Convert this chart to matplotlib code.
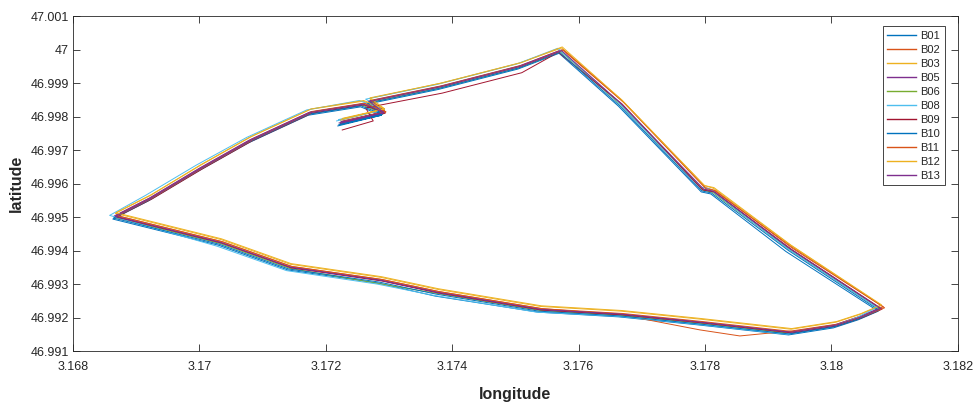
import matplotlib
matplotlib.use('Agg')
import matplotlib.pyplot as plt
from matplotlib.ticker import FuncFormatter

# traces GPS des bateaux (longitude, latitude)
b01_lon = [3.17219, 3.17288, 3.17265, 3.17378, 3.17504, 3.17569, 3.17663, 3.17794, 3.17809, 3.17928, 3.18074, 3.18042, 3.18003, 3.17932, 3.17789, 3.17663, 3.17536, 3.17373, 3.17283, 3.17140, 3.17030, 3.16863, 3.16919, 3.16998, 3.17077, 3.17172, 3.17255, 3.17288, 3.17222]
b01_lat = [46.99772, 46.99804, 46.99837, 46.99881, 46.99942, 46.99989, 46.99831, 46.99575, 46.99569, 46.99397, 46.99219, 46.99193, 46.99169, 46.99148, 46.99178, 46.99202, 46.99216, 46.99264, 46.99303, 46.99342, 46.99416, 46.99494, 46.99548, 46.99637, 46.99721, 46.99804, 46.99829, 46.99804, 46.99776]

b02_lon = [3.17224, 3.17293, 3.17270, 3.17383, 3.17509, 3.17574, 3.17670, 3.17801, 3.17814, 3.17938, 3.18082, 3.18048, 3.18008, 3.17937, 3.17855, 3.17792, 3.17668, 3.17541, 3.17378, 3.17288, 3.17145, 3.17035, 3.16868, 3.16924, 3.17003, 3.17082, 3.17177, 3.17260, 3.17293, 3.17227]
b02_lat = [46.99783, 46.99815, 46.99848, 46.99892, 46.99953, 47.00000, 46.99845, 46.99588, 46.99580, 46.99410, 46.99232, 46.99206, 46.99180, 46.99160, 46.99145, 46.99163, 46.99208, 46.99227, 46.99278, 46.99314, 46.99353, 46.99427, 46.99505, 46.99559, 46.99648, 46.99732, 46.99815, 46.99840, 46.99815, 46.99787]

b03_lon = [3.17223, 3.17292, 3.17269, 3.17382, 3.17508, 3.17573, 3.17668, 3.17799, 3.17813, 3.17936, 3.18079, 3.18046, 3.18007, 3.17936, 3.17793, 3.17667, 3.17540, 3.17377, 3.17287, 3.17144, 3.17034, 3.16867, 3.16923, 3.17002, 3.17081, 3.17176, 3.17259, 3.17292, 3.17226]
b03_lat = [46.99789, 46.99821, 46.99854, 46.99900, 46.99961, 47.00005, 46.99850, 46.99594, 46.99586, 46.99415, 46.99236, 46.99210, 46.99186, 46.99165, 46.99195, 46.99219, 46.99233, 46.99284, 46.99320, 46.99359, 46.99433, 46.99511, 46.99565, 46.99656, 46.99740, 46.99822, 46.99846, 46.99821, 46.99793]

b05_lon = [3.17221, 3.17290, 3.17267, 3.17380, 3.17506, 3.17571, 3.17665, 3.17796, 3.17811, 3.17933, 3.18076, 3.18044, 3.18005, 3.17934, 3.17791, 3.17665, 3.17538, 3.17375, 3.17285, 3.17142, 3.17032, 3.16865, 3.16921, 3.17000, 3.17079, 3.17174, 3.17257, 3.17290, 3.17224]
b05_lat = [46.99781, 46.99813, 46.99846, 46.99890, 46.99951, 46.99998, 46.99840, 46.99584, 46.99578, 46.99406, 46.99228, 46.99202, 46.99178, 46.99157, 46.99187, 46.99211, 46.99225, 46.99276, 46.99312, 46.99351, 46.99425, 46.99503, 46.99557, 46.99646, 46.99730, 46.99813, 46.99838, 46.99813, 46.99785]

b06_lon = [3.17222, 3.17291, 3.17268, 3.17381, 3.17507, 3.17572, 3.17666, 3.17797, 3.17812, 3.17934, 3.18077, 3.18045, 3.18006, 3.17935, 3.17792, 3.17666, 3.17539, 3.17376, 3.17300, 3.17143, 3.17033, 3.16866, 3.16922, 3.17001, 3.17080, 3.17175, 3.17258, 3.17291, 3.17225]
b06_lat = [46.99777, 46.99809, 46.99842, 46.99886, 46.99947, 46.99994, 46.99836, 46.99580, 46.99574, 46.99402, 46.99224, 46.99198, 46.99174, 46.99153, 46.99183, 46.99207, 46.99221, 46.99272, 46.99296, 46.99347, 46.99421, 46.99499, 46.99553, 46.99642, 46.99726, 46.99809, 46.99834, 46.99809, 46.99781]

b08_lon = [3.17217, 3.17293, 3.17263, 3.17376, 3.17502, 3.17567, 3.17661, 3.17792, 3.17807, 3.17929, 3.18072, 3.18040, 3.18001, 3.17930, 3.17787, 3.17661, 3.17534, 3.17371, 3.17281, 3.17138, 3.17028, 3.16858, 3.16915, 3.16995, 3.17075, 3.17170, 3.17253, 3.17291, 3.17220]
b08_lat = [46.99787, 46.99821, 46.99852, 46.99896, 46.99957, 47.00004, 46.99846, 46.99590, 46.99584, 46.99408, 46.99230, 46.99200, 46.99172, 46.99150, 46.99180, 46.99204, 46.99216, 46.99266, 46.99300, 46.99340, 46.99413, 46.99505, 46.99565, 46.99655, 46.99738, 46.99820, 46.99848, 46.99821, 46.99791]

b09_lon = [3.17226, 3.17275, 3.17263, 3.17384, 3.17510, 3.17568, 3.17669, 3.17796, 3.17815, 3.17937, 3.18080, 3.18048, 3.18009, 3.17938, 3.17795, 3.17669, 3.17542, 3.17379, 3.17289, 3.17146, 3.17036, 3.16869, 3.16925, 3.17004, 3.17083, 3.17178, 3.17261, 3.17294, 3.17228]
b09_lat = [46.99760, 46.99787, 46.99826, 46.99870, 46.99931, 46.99992, 46.99837, 46.99581, 46.99575, 46.99403, 46.99225, 46.99199, 46.99175, 46.99154, 46.99184, 46.99208, 46.99222, 46.99273, 46.99309, 46.99348, 46.99422, 46.99500, 46.99554, 46.99643, 46.99727, 46.99810, 46.99835, 46.99810, 46.99782]

b10_lon = [3.17220, 3.17289, 3.17266, 3.17379, 3.17505, 3.17570, 3.17664, 3.17795, 3.17810, 3.17932, 3.18075, 3.18043, 3.18004, 3.17933, 3.17790, 3.17664, 3.17537, 3.17374, 3.17284, 3.17141, 3.17031, 3.16864, 3.16920, 3.16999, 3.17078, 3.17173, 3.17256, 3.17289, 3.17223]
b10_lat = [46.99775, 46.99807, 46.99840, 46.99884, 46.99945, 46.99992, 46.99834, 46.99578, 46.99572, 46.99400, 46.99222, 46.99196, 46.99172, 46.99151, 46.99181, 46.99205, 46.99219, 46.99270, 46.99306, 46.99345, 46.99419, 46.99497, 46.99551, 46.99640, 46.99724, 46.99807, 46.99832, 46.99807, 46.99779]

b11_lon = [3.17226, 3.17295, 3.17272, 3.17385, 3.17511, 3.17576, 3.17672, 3.17801, 3.17816, 3.17938, 3.18084, 3.18049, 3.18010, 3.17939, 3.17796, 3.17670, 3.17543, 3.17380, 3.17290, 3.17147, 3.17037, 3.16870, 3.16926, 3.17005, 3.17084, 3.17179, 3.17262, 3.17295, 3.17229]
b11_lat = [46.99782, 46.99814, 46.99847, 46.99891, 46.99952, 46.99999, 46.99841, 46.99585, 46.99579, 46.99407, 46.99229, 46.99203, 46.99179, 46.99158, 46.99188, 46.99212, 46.99226, 46.99277, 46.99313, 46.99352, 46.99426, 46.99504, 46.99558, 46.99647, 46.99731, 46.99814, 46.99839, 46.99814, 46.99786]

b12_lon = [3.17224, 3.17293, 3.17270, 3.17383, 3.17509, 3.17574, 3.17668, 3.17799, 3.17814, 3.17936, 3.18079, 3.18047, 3.18008, 3.17937, 3.17794, 3.17668, 3.17541, 3.17378, 3.17288, 3.17145, 3.17035, 3.16868, 3.16924, 3.17003, 3.17082, 3.17177, 3.17260, 3.17293, 3.17227]
b12_lat = [46.99791, 46.99823, 46.99856, 46.99900, 46.99961, 47.00008, 46.99850, 46.99594, 46.99588, 46.99416, 46.99238, 46.99212, 46.99188, 46.99167, 46.99197, 46.99221, 46.99235, 46.99286, 46.99322, 46.99361, 46.99435, 46.99513, 46.99567, 46.99656, 46.99740, 46.99823, 46.99848, 46.99823, 46.99795]

b13_lon = [3.17223, 3.17292, 3.17269, 3.17382, 3.17508, 3.17573, 3.17667, 3.17798, 3.17813, 3.17935, 3.18078, 3.18046, 3.18007, 3.17936, 3.17793, 3.17667, 3.17540, 3.17377, 3.17287, 3.17144, 3.17034, 3.16867, 3.16923, 3.17002, 3.17081, 3.17176, 3.17259, 3.17292, 3.17226]
b13_lat = [46.99780, 46.99812, 46.99845, 46.99889, 46.99950, 46.99997, 46.99839, 46.99583, 46.99577, 46.99405, 46.99227, 46.99201, 46.99177, 46.99156, 46.99186, 46.99210, 46.99224, 46.99275, 46.99311, 46.99350, 46.99424, 46.99502, 46.99556, 46.99645, 46.99729, 46.99812, 46.99837, 46.99812, 46.99784]

noms = ['B01', 'B02', 'B03', 'B05', 'B06', 'B08', 'B09', 'B10', 'B11', 'B12', 'B13']
traces = [(b01_lon, b01_lat), (b02_lon, b02_lat), (b03_lon, b03_lat), (b05_lon, b05_lat),
          (b06_lon, b06_lat), (b08_lon, b08_lat), (b09_lon, b09_lat), (b10_lon, b10_lat),
          (b11_lon, b11_lat), (b12_lon, b12_lat), (b13_lon, b13_lat)]

# couleurs par défaut de MATLAB
couleurs = ['#0072BD', '#D95319', '#EDB120', '#7E2F8E', '#77AC30', '#4DBEEE', '#A2142F']

plt.rcParams['font.family'] = ['Liberation Sans', 'DejaVu Sans']

fig = plt.figure(figsize=(9.73, 4.03), dpi=100)
ax = fig.add_axes([0.075, 0.129, 0.9095, 0.831])

for i, (nom, (lon, lat)) in enumerate(zip(noms, traces)):
    ax.plot(lon, lat, color=couleurs[i % len(couleurs)], linewidth=0.7, label=nom)

ax.set_xlim(3.168, 3.182)
ax.set_ylim(46.991, 47.001)
ax.set_xticks([3.168, 3.170, 3.172, 3.174, 3.176, 3.178, 3.180, 3.182])
ax.set_yticks([46.991 + 0.001 * k for k in range(11)])

fmt = FuncFormatter(lambda v, p: ('%.3f' % v).rstrip('0').rstrip('.'))
ax.xaxis.set_major_formatter(fmt)
ax.yaxis.set_major_formatter(fmt)

gris = '#262626'
ax.tick_params(direction='in', length=5, width=0.6, colors=gris, labelsize=9,
               top=True, right=True, pad=3)
ax.tick_params(axis='x', pad=7)
for s in ax.spines.values():
    s.set_color(gris)
    s.set_linewidth(0.6)

ax.set_xlabel('longitude', fontsize=11.5, fontweight='bold', color=gris, labelpad=10)
ax.set_ylabel('latitude', fontsize=11.5, fontweight='bold', color=gris, labelpad=5)

leg = ax.legend(loc='upper right', bbox_to_anchor=(0.9853, 0.970), borderaxespad=0,
                fontsize=8, labelspacing=0.36, handlelength=2.6, handletextpad=0.4,
                fancybox=False, framealpha=1, borderpad=0.4)
leg.get_frame().set_edgecolor(gris)
leg.get_frame().set_linewidth(0.6)
for h in leg.get_lines():
    h.set_linewidth(1.0)
for t in leg.get_texts():
    t.set_color(gris)

fig.savefig('out.png', dpi=100)
